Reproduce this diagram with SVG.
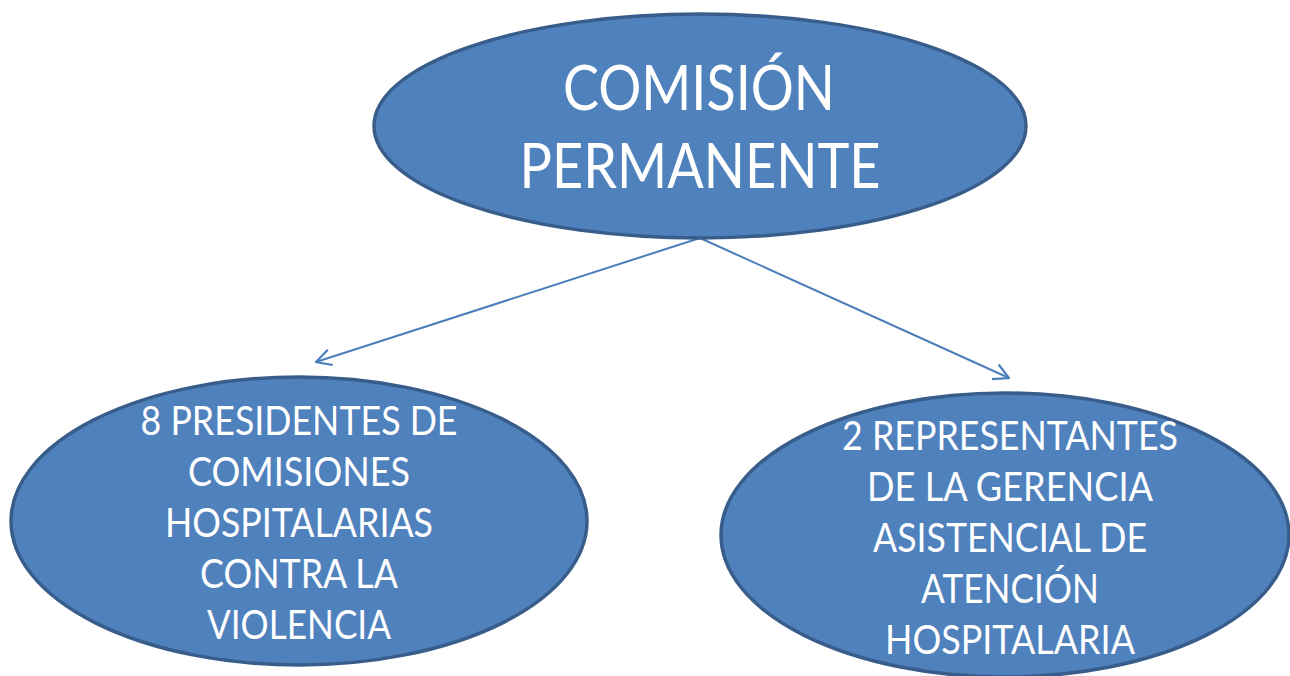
<svg xmlns="http://www.w3.org/2000/svg" width="1290" height="676" viewBox="0 0 1290 676">
<style>
.node{fill:#4F81BD;stroke:#385D8A;stroke-width:3.5}
.t{font-family:Lato,"Open Sans","Liberation Sans",sans-serif;fill:#FFFFFF;text-anchor:middle}
.big{font-size:62px}
.small{font-size:40px}
.conn{stroke:#4A7EBB;stroke-width:2;fill:none}
</style>
<defs>
<marker id="arr" viewBox="0 0 20 20" refX="19" refY="10" markerWidth="20" markerHeight="20" markerUnits="userSpaceOnUse" orient="auto">
<path d="M4,2 L19,10 L4,18" fill="none" stroke="#4A7EBB" stroke-width="2.2"/>
</marker>
</defs>
<rect width="1290" height="676" fill="#FFFFFF"/>
<g id="connectors">
<line class="conn" x1="700" y1="238" x2="316" y2="362" marker-end="url(#arr)"/>
<line class="conn" x1="700" y1="238" x2="1009" y2="378" marker-end="url(#arr)"/>
</g>
<g id="node-comision">
<ellipse class="node" cx="700" cy="126" rx="326" ry="112"/>
<text class="t big" x="699" y="110" textLength="272" lengthAdjust="spacingAndGlyphs">COMISIÓN</text>
<text class="t big" x="700" y="188" textLength="361" lengthAdjust="spacingAndGlyphs">PERMANENTE</text>
</g>
<g id="node-presidentes">
<ellipse class="node" cx="299" cy="521" rx="288" ry="144"/>
<text class="t small" x="299" y="435" textLength="317" lengthAdjust="spacingAndGlyphs">8 PRESIDENTES DE</text>
<text class="t small" x="299" y="486" textLength="222" lengthAdjust="spacingAndGlyphs">COMISIONES</text>
<text class="t small" x="299" y="537" textLength="268" lengthAdjust="spacingAndGlyphs">HOSPITALARIAS</text>
<text class="t small" x="299" y="588" textLength="198" lengthAdjust="spacingAndGlyphs">CONTRA LA</text>
<text class="t small" x="299" y="639" textLength="184" lengthAdjust="spacingAndGlyphs">VIOLENCIA</text>
</g>
<g id="node-representantes">
<ellipse class="node" cx="1005" cy="535" rx="284" ry="142"/>
<text class="t small" x="1010" y="450" textLength="336" lengthAdjust="spacingAndGlyphs">2 REPRESENTANTES</text>
<text class="t small" x="1010" y="501" textLength="286" lengthAdjust="spacingAndGlyphs">DE LA GERENCIA</text>
<text class="t small" x="1010" y="552" textLength="274" lengthAdjust="spacingAndGlyphs">ASISTENCIAL DE</text>
<text class="t small" x="1010" y="603" textLength="178" lengthAdjust="spacingAndGlyphs">ATENCIÓN</text>
<text class="t small" x="1010" y="654" textLength="250" lengthAdjust="spacingAndGlyphs">HOSPITALARIA</text>
</g>
</svg>
